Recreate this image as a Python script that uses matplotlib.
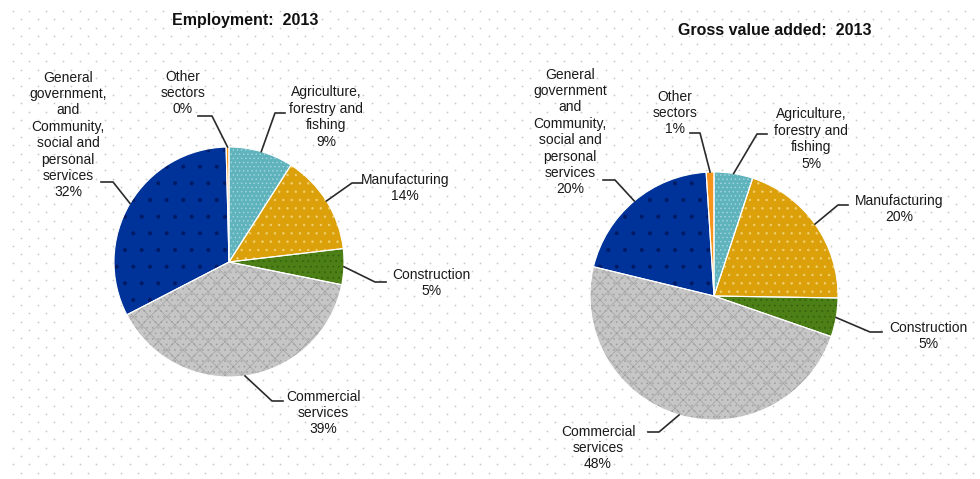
import numpy as np
import matplotlib.pyplot as plt

plt.rcParams['font.family'] = ['Liberation Sans', 'DejaVu Sans']
plt.rcParams['hatch.linewidth'] = 0.5

W, H = 980, 479

# sectors, clockwise from 12 o'clock
emp_names = ['Agriculture,\nforestry and\nfishing', 'Manufacturing', 'Construction',
             'Commercial\nservices',
             'General\ngovernment,\nand\nCommunity,\nsocial and\npersonal\nservices',
             'Other\nsectors']
gva_names = ['Agriculture,\nforestry and\nfishing', 'Manufacturing', 'Construction',
             'Commercial\nservices',
             'General\ngovernment\nand\nCommunity,\nsocial and\npersonal\nservices',
             'Other\nsectors']
employment_2013 = [9, 14, 5, 39, 32, 0.4]
employment_pct = ['9%', '14%', '5%', '39%', '32%', '0%']
gva_2013 = [5, 20, 5, 48, 20, 1]
gva_pct = ['5%', '20%', '5%', '48%', '20%', '1%']

fills = ['#5fb3bd', '#dca10a', '#4d7f17', '#c6c6c6', '#003399', '#f7941d']
hatch_cols = ['#a6d6db', '#f0d070', '#33600c', '#a2a2a2', '#001a66', '#f9c27a']
hatches = ['....', '..', '...', 'xx...', '.', '']

# label layout in pixels from top-left: text x, text y, elbow x, elbow y, stub end x
emp_layout = [(326, 117, 275, 113, 285), (405, 188, 352, 183, 362),
              (431, 283, 375, 282, 386), (323, 413, 272, 401, 283),
              (68, 135, 113, 182, 101), (183, 93, 212, 116, 198)]
gva_layout = [(811, 139, 757, 134, 767), (899, 209, 838, 205, 848),
              (928, 336, 870, 332, 882), (598, 448, 659, 432, 648),
              (570, 132, 615, 180, 603), (675, 113, 700, 133, 690)]


def draw_pie(ax, values, names, pcts, layout, cx, cy, r, title, title_xy):
    center = (cx, H - cy)
    wedges, _ = ax.pie(values, colors=fills, startangle=90, counterclock=False,
                       center=center, radius=r, hatch=hatches,
                       wedgeprops=dict(linewidth=0))
    for w, hc in zip(wedges, hatch_cols):
        w.set_edgecolor(hc)
        w.set_zorder(2)
    outline, _ = ax.pie(values, startangle=90, counterclock=False, center=center,
                        radius=r, wedgeprops=dict(fill=False, edgecolor='white', linewidth=0.8))
    for w in outline:
        w.set_zorder(3)

    for w, name, pct, (tx, ty, ex, ey, sx) in zip(wedges, names, pcts, layout):
        mid = np.deg2rad((w.theta1 + w.theta2) / 2)
        px = center[0] + r * np.cos(mid)
        py = center[1] + r * np.sin(mid)
        ax.plot([px, ex, sx], [py, H - ey, H - ey], color='#2b2b2b', lw=1.2, zorder=4)
        ax.text(tx, H - ty, name + '\n' + pct, ha='center', va='center',
                fontsize=10, color='#1a1a1a', linespacing=1.22, zorder=5)

    ax.text(title_xy[0], H - title_xy[1], title, ha='center', va='center',
            fontsize=11.5, fontweight='bold', color='#111111')


fig = plt.figure(figsize=(W / 100, H / 100), dpi=100)
ax = fig.add_axes([0, 0, 1, 1])

# dotted background
for i, y in enumerate(np.arange(10.7, H, 8.4)):
    xs = np.arange(12.7 + (8.35 if i % 2 else 0), W, 16.7)
    ax.scatter(xs, H - np.full_like(xs, y), s=1.6, color='#c9c9c9', linewidths=0, zorder=0)

draw_pie(ax, employment_2013, emp_names, employment_pct, emp_layout,
         229, 262, 115, 'Employment:  2013', (245, 20))
draw_pie(ax, gva_2013, gva_names, gva_pct, gva_layout,
         714, 296, 124, 'Gross value added:  2013', (775, 30))

ax.set_xlim(0, W)
ax.set_ylim(0, H)
ax.set_aspect('equal')
ax.axis('off')

fig.savefig('out.png', dpi=100, facecolor='white')
